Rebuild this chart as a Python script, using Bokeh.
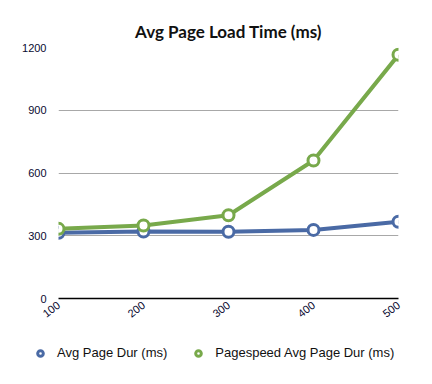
import math
from bokeh.plotting import figure
from bokeh.models import Legend, LegendItem, FixedTicker, Range1d
from bokeh.embed import file_html
from bokeh.resources import INLINE

x_vals = [100, 200, 300, 400, 500]
avg_dur = [314, 320, 319, 328, 367]
pagespeed_dur = [333, 349, 398, 660, 1165]
y_ticks = [0, 300, 600, 900, 1200]
title_text = "Avg Page Load Time (ms)"
series_names = ["Avg Page Dur (ms)", "Pagespeed Avg Page Dur (ms)"]

BLUE = "#4a6aa5"
GREEN = "#78a94b"
FONT = "Liberation Sans"

p = figure(frame_width=340, frame_height=251, output_backend="svg", toolbar_location=None,
           x_range=Range1d(100, 500), y_range=Range1d(0, 1200),
           min_border_left=58, min_border_right=18, min_border_top=47, min_border_bottom=0)
p.title.text = title_text
p.title.align = "center"
p.title.vertical_align = "middle"
p.title.text_font = "Lato"
p.title.text_font_size = "17px"
p.title.text_font_style = "bold"
p.title.text_color = "#111111"

p.outline_line_color = None
p.background_fill_color = "white"
p.border_fill_color = "white"

p.xgrid.grid_line_color = None
p.ygrid.grid_line_color = "#a8a8a8"
p.ygrid.grid_line_width = 1
p.yaxis.ticker = FixedTicker(ticks=y_ticks)
p.xaxis.ticker = FixedTicker(ticks=x_vals)

p.yaxis.axis_line_color = None
p.yaxis.major_tick_line_color = None
p.yaxis.minor_tick_line_color = None
p.yaxis.major_tick_out = 0
p.yaxis.major_label_text_font = FONT
p.yaxis.major_label_text_font_size = "11px"
p.yaxis.major_label_text_color = "#0a0a30"
p.yaxis.major_label_standoff = 12

p.xaxis.axis_line_color = "black"
p.xaxis.axis_line_width = 1.5
p.xaxis.major_tick_line_color = None
p.xaxis.minor_tick_line_color = None
p.xaxis.major_tick_out = 0
p.xaxis.major_label_orientation = math.radians(38)
p.xaxis.major_label_text_font = FONT
p.xaxis.major_label_text_font_size = "11px"
p.xaxis.major_label_text_color = "#0a0a30"
p.xaxis.major_label_standoff = 5

p.line(x_vals, avg_dur, line_color=BLUE, line_width=4)
p.line(x_vals, pagespeed_dur, line_color=GREEN, line_width=4)
p.scatter(x_vals, avg_dur, size=11, fill_color="white", line_color=BLUE, line_width=3)
p.scatter(x_vals, pagespeed_dur, size=11, fill_color="white", line_color=GREEN, line_width=3)

# legend strip: its own small figure, rendered as a separate root under the chart
q = figure(width=416, height=50, output_backend="svg", toolbar_location=None,
           x_range=Range1d(0, 1), y_range=Range1d(0, 1),
           x_axis_location=None, y_axis_location=None,
           min_border_left=0, min_border_right=0, min_border_top=0, min_border_bottom=0)
q.grid.visible = False
q.outline_line_color = None
q.border_fill_color = "white"
r1 = q.scatter(x_vals, avg_dur, size=11, fill_color="white", line_color=BLUE, line_width=3)
r2 = q.scatter(x_vals, pagespeed_dur, size=11, fill_color="white", line_color=GREEN, line_width=3)

legend = Legend(items=[LegendItem(label=series_names[0], renderers=[r1]),
                       LegendItem(label=series_names[1], renderers=[r2])],
                orientation="horizontal", location=(33, 14),
                label_text_font=FONT, label_text_font_size="13px",
                label_text_color="#111111", background_fill_alpha=0,
                border_line_color=None, glyph_width=14, glyph_height=14,
                label_standoff=10, spacing=24, padding=4, margin=0)
q.add_layout(legend, "center")

open("out.html", "w").write(file_html([p, q], INLINE))
